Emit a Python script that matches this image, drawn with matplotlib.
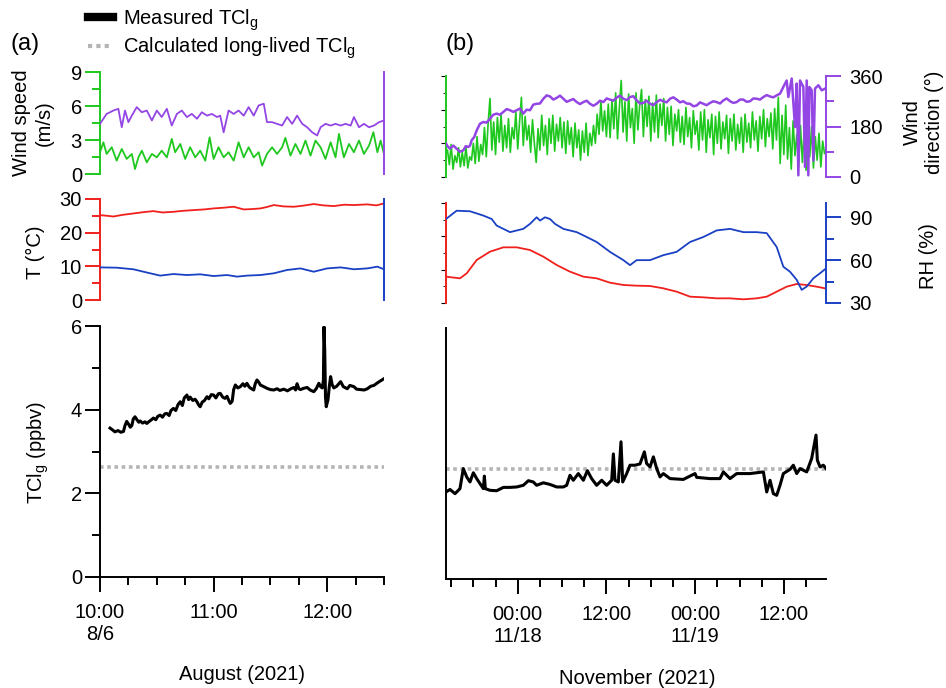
import matplotlib
matplotlib.use('Agg')
import matplotlib.pyplot as plt
from matplotlib.ticker import MultipleLocator
from matplotlib.lines import Line2D

plt.rcParams['font.family'] = ['Liberation Sans', 'DejaVu Sans']
plt.rcParams['font.size'] = 14.5
plt.rcParams['mathtext.default'] = 'regular'

W, H = 946, 688
GREEN = '#1ec81e'
PURPLE = '#9446e4'
RED = '#f0201c'
BLUE = '#1a40c4'
GRAY = '#b4b4b4'

# ---------- (a) August, minutes after 10:00 on 8/6 ----------
a_ws_min = [0, 1.8, 3.5, 6.2, 8.8, 11.5, 14.1, 16.8, 18.5, 20.3,
            22.1, 24.7, 27.4, 30.0, 32.6, 35.3, 37.9, 39.7, 42.4, 45.0,
            47.6, 50.3, 52.9, 55.6, 57.9, 60.0, 62.6, 65.3, 67.9, 70.6,
            73.2, 75.9, 78.5, 81.2, 83.8, 85.6, 88.2, 90.9, 93.5, 96.2,
            97.9, 100.6, 103.2, 105.9, 108.5, 111.2, 113.8, 116.5, 119.1, 121.8,
            124.4, 126.2, 128.8, 131.5, 134.1, 136.8, 139.4, 142.1, 144.4, 146.5,
            148.2, 150.0]
a_ws = [1.92, 2.80, 1.77, 2.36, 1.18, 2.21, 1.33, 1.77, 0.44, 1.47,
        2.06, 1.03, 1.77, 1.47, 2.06, 1.47, 3.10, 1.92, 2.65, 1.33,
        2.36, 1.47, 2.06, 1.18, 3.24, 1.33, 2.36, 1.47, 1.92, 1.18,
        2.80, 1.47, 2.36, 1.47, 1.92, 0.74, 1.77, 2.36, 1.77, 2.36,
        3.19, 1.62, 2.65, 1.77, 2.95, 1.62, 2.95, 2.36, 1.33, 2.80,
        1.47, 3.54, 1.47, 2.65, 1.92, 2.95, 1.77, 2.51, 3.69, 1.92,
        2.95, 1.77]

a_wd_min = [0, 3.5, 7.1, 9.7, 11.5, 13.2, 15.0, 16.8, 19.4, 22.1,
            24.7, 27.4, 30.0, 32.6, 35.3, 37.9, 40.6, 43.2, 45.9, 48.5,
            51.2, 53.8, 56.5, 59.1, 61.8, 63.5, 65.3, 67.9, 70.6, 73.2,
            75.9, 78.5, 81.2, 83.8, 86.5, 88.2, 90.9, 93.5, 96.2, 98.8,
            101.5, 104.1, 106.8, 109.4, 112.1, 114.7, 116.5, 119.1, 121.8, 124.4,
            127.1, 129.7, 132.4, 134.1, 136.8, 139.4, 142.1, 144.7, 147.4, 150.0]
a_wd = [177, 212, 224, 230, 165, 224, 183, 206, 236, 218,
        224, 189, 224, 201, 230, 171, 212, 224, 201, 212,
        195, 218, 206, 212, 201, 206, 147, 224, 212, 224,
        206, 236, 206, 242, 248, 183, 183, 177, 171, 201,
        177, 206, 177, 165, 147, 136, 165, 177, 171, 177,
        171, 177, 171, 201, 165, 177, 165, 171, 183, 189]

a_t_min = [0, 4, 7.1, 12, 17.6, 23, 28.2, 33, 38.8, 44,
           49.4, 55, 60, 65, 70.6, 75.9, 80, 84.7, 88, 91.8,
           97, 102.4, 107, 112.9, 118, 123.5, 129, 134.1, 141.2, 146, 150]
a_t = [25.2, 25.0, 24.8, 25.3, 25.7, 26.1, 26.4, 26.0, 26.2, 26.5,
       26.7, 26.9, 27.2, 27.4, 27.7, 26.9, 27.0, 27.2, 27.6, 28.2,
       27.8, 27.7, 28.0, 28.5, 28.1, 27.9, 28.3, 28.2, 28.4, 28.1, 28.7]

a_rh_min = [0, 8.8, 17.6, 26.5, 31.8, 38.8, 45.9, 52.9, 60, 67.1,
            72.4, 77.6, 84.7, 91.8, 98.8, 105.9, 112.9, 120, 127.1, 134.1,
            141.2, 146.5, 150]
a_rh = [52.6, 52.4, 51.3, 48.5, 46.9, 48.0, 47.3, 47.8, 46.6, 47.3,
        46.2, 46.9, 47.3, 48.5, 50.8, 51.9, 49.6, 51.9, 52.6, 51.3,
        51.9, 53.1, 51.3]

a_tcl_min = [5.3, 6.5, 7.9, 9.5, 11.0, 12.4, 13.2, 14.1, 15.0, 16.0,
             16.8, 17.6, 18.5, 19.5, 20.5, 21.2, 22.5, 23.8, 24.7, 26.0,
             27.2, 28.2, 29.5, 30.5, 31.8, 33.0, 34.2, 35.3, 36.5, 37.5,
             38.8, 40.0, 41.2, 42.4, 43.5, 44.5, 45.9, 46.8, 47.6, 49.0,
             50.2, 51.2, 52.0, 52.9, 54.0, 55.2, 56.5, 57.5, 58.8, 60.0,
             61.2, 62.5, 63.5, 64.8, 66.0, 67.1, 68.0, 68.8, 69.8, 70.6,
             71.5, 72.8, 74.1, 75.5, 76.5, 77.6, 78.8, 80.0, 81.2, 82.0,
             82.9, 83.8, 84.7, 86.5, 88.2, 90.0, 91.8, 93.5, 95.0, 97.1,
             99.0, 100.8, 102.4, 103.3, 104.1, 105.0, 105.9, 107.5, 109.4, 111.0,
             112.9, 114.2, 115.6, 116.5, 117.4, 118.0, 118.3, 118.7, 119.1, 119.5,
             119.9, 120.4, 121.1, 121.8, 122.6, 123.5, 125.0, 127.1, 128.5, 130.6,
             132.0, 134.1, 135.5, 137.6, 139.5, 141.2, 143.0, 144.7, 146.5, 148.2,
             150.0]
a_tcl = [3.56, 3.52, 3.47, 3.50, 3.46, 3.48, 3.62, 3.72, 3.66, 3.58,
         3.62, 3.78, 3.83, 3.76, 3.70, 3.73, 3.68, 3.71, 3.67, 3.72,
         3.76, 3.80, 3.76, 3.84, 3.87, 3.82, 3.90, 3.91, 3.86, 3.98,
         4.03, 3.98, 4.12, 4.19, 4.10, 4.28, 4.35, 4.24, 4.30, 4.22,
         4.25, 4.19, 4.12, 4.07, 4.18, 4.22, 4.31, 4.26, 4.36, 4.35,
         4.28, 4.38, 4.39, 4.30, 4.27, 4.32, 4.22, 4.15, 4.20, 4.48,
         4.59, 4.52, 4.55, 4.62, 4.56, 4.63, 4.54, 4.50, 4.47, 4.62,
         4.71, 4.66, 4.59, 4.55, 4.51, 4.48, 4.47, 4.50, 4.46, 4.49,
         4.45, 4.50, 4.53, 4.47, 4.62, 4.50, 4.48, 4.51, 4.53, 4.47,
         4.43, 4.50, 4.63, 4.55, 4.52, 4.70, 5.98, 5.40, 4.30, 4.07,
         4.15, 4.23, 4.55, 4.79, 4.60, 4.52, 4.56, 4.67, 4.55, 4.50,
         4.58, 4.55, 4.49, 4.48, 4.47, 4.50, 4.56, 4.58, 4.64, 4.69,
         4.74]
a_longlived = 2.64

a_xlim = (0, 150)
a_tick_min = [0, 60, 120]
a_tick_labels = ['10:00\n8/6', '11:00', '12:00']

# ---------- (b) November, hours after 00:00 on 11/17 ----------
b_ws_h = [14.5, 14.75, 15.0, 15.25, 15.5, 15.75, 16.0, 16.25,
          16.5, 16.75, 17.0, 17.25, 17.5, 17.75, 18.0, 18.25,
          18.5, 18.75, 19.0, 19.25, 19.5, 19.75, 20.0, 20.25,
          20.5, 20.75, 21.0, 21.25, 21.5, 21.75, 22.0, 22.25,
          22.5, 22.75, 23.0, 23.25, 23.5, 23.75, 24.0, 24.25,
          24.5, 24.75, 25.0, 25.25, 25.5, 25.75, 26.0, 26.25,
          26.5, 26.75, 27.0, 27.25, 27.5, 27.75, 28.0, 28.25,
          28.5, 28.75, 29.0, 29.25, 29.5, 29.75, 30.0, 30.25,
          30.5, 30.75, 31.0, 31.25, 31.5, 31.75, 32.0, 32.25,
          32.5, 32.75, 33.0, 33.25, 33.5, 33.75, 34.0, 34.25,
          34.5, 34.75, 35.0, 35.25, 35.5, 35.75, 36.0, 36.25,
          36.5, 36.75, 37.0, 37.25, 37.5, 37.75, 38.0, 38.25,
          38.5, 38.75, 39.0, 39.25, 39.5, 39.75, 40.0, 40.25,
          40.5, 40.75, 41.0, 41.25, 41.5, 41.75, 42.0, 42.25,
          42.5, 42.75, 43.0, 43.25, 43.5, 43.75, 44.0, 44.25,
          44.5, 44.75, 45.0, 45.25, 45.5, 45.75, 46.0, 46.25,
          46.5, 46.75, 47.0, 47.25, 47.5, 47.75, 48.0, 48.25,
          48.5, 48.75, 49.0, 49.25, 49.5, 49.75, 50.0, 50.25,
          50.5, 50.75, 51.0, 51.25, 51.5, 51.75, 52.0, 52.25,
          52.5, 52.75, 53.0, 53.25, 53.5, 53.75, 54.0, 54.25,
          54.5, 54.75, 55.0, 55.25, 55.5, 55.75, 56.0, 56.25,
          56.5, 56.75, 57.0, 57.25, 57.5, 57.75, 58.0, 58.25,
          58.5, 58.75, 59.0, 59.25, 59.5, 59.75, 60.0, 60.25,
          60.5, 60.75, 61.0, 61.25, 61.5, 61.75, 62.0, 62.25,
          62.5, 62.75, 63.0, 63.25, 63.5, 63.75, 64.0, 64.25,
          64.5, 64.75, 65.0, 65.25, 65.5]
b_ws = [2.4, 1.1, 2.9, 0.7, 1.9, 1.3, 2.6, 0.9,
        2.2, 1.0, 2.7, 0.8, 1.8, 1.5, 3.0, 1.2,
        3.6, 1.4, 2.9, 2.0, 4.4, 1.8, 4.8, 7.0,
        2.4, 4.9, 2.0, 5.3, 3.1, 5.6, 2.3, 4.6,
        2.6, 5.2, 2.2, 4.4, 3.4, 5.8, 2.5, 4.9,
        7.1, 2.8, 5.4, 3.3, 4.6, 2.2, 5.1, 3.0,
        1.3, 4.3, 2.4, 5.5, 2.8, 4.6, 2.0, 5.2,
        3.0, 5.5, 2.3, 4.7, 3.2, 5.3, 2.6, 4.9,
        2.1, 5.0, 2.9, 4.4, 1.8, 4.8, 2.6, 4.2,
        1.5, 4.1, 2.2, 4.8, 1.9, 3.9, 2.8, 4.6,
        3.0, 5.6, 3.8, 6.8, 4.1, 5.9, 3.6, 6.5,
        3.5, 6.9, 4.3, 7.5, 3.4, 6.2, 8.6, 4.0,
        6.7, 3.2, 7.4, 4.4, 6.1, 3.0, 7.5, 4.2,
        6.4, 7.8, 3.6, 6.9, 4.5, 7.2, 3.2, 6.6,
        4.0, 7.3, 3.5, 6.5, 4.6, 7.0, 3.2, 6.2,
        3.8, 6.3, 2.8, 5.6, 4.1, 6.0, 3.1, 5.4,
        2.9, 6.2, 3.6, 5.3, 2.6, 5.9, 3.8, 5.0,
        2.4, 5.8, 3.3, 6.0, 2.2, 5.1, 3.5, 5.6,
        2.0, 5.4, 3.0, 5.8, 2.5, 4.9, 3.4, 5.5,
        2.1, 5.2, 3.2, 5.6, 2.4, 4.7, 3.0, 5.3,
        2.2, 5.6, 3.1, 4.8, 2.6, 5.8, 3.3, 5.0,
        2.3, 5.4, 3.4, 6.0, 2.7, 5.2, 3.6, 5.7,
        2.5, 6.1, 3.3, 7.1, 1.2, 5.5, 2.0, 6.4,
        1.6, 4.4, 0.7, 5.0, 1.9, 3.8, 0.9, 4.6,
        1.3, 4.1, 0.6, 3.7, 1.8, 4.5, 0.8, 3.6,
        1.5, 3.9, 0.9, 3.2, 2.1]

b_wd_h = [14.30, 14.57, 14.84, 15.29, 15.74, 16.19, 16.64, 16.98, 17.32, 17.55,
          17.77, 18.11, 18.45, 18.90, 19.35, 19.80, 20.25, 20.70, 21.15, 21.60,
          22.06, 22.51, 22.96, 23.41, 23.86, 24.31, 24.76, 25.21, 25.66, 26.11,
          26.56, 27.01, 27.47, 27.92, 28.37, 28.82, 29.27, 29.72, 30.17, 30.62,
          31.07, 31.52, 31.98, 32.43, 32.88, 33.33, 33.78, 34.23, 34.68, 35.13,
          35.58, 36.03, 36.48, 36.93, 37.39, 37.84, 38.29, 38.74, 39.19, 39.64,
          40.09, 40.54, 40.99, 41.44, 41.90, 42.35, 42.80, 43.25, 43.70, 44.15,
          44.60, 45.05, 45.50, 45.95, 46.40, 46.85, 47.31, 47.76, 48.21, 48.66,
          49.11, 49.56, 50.01, 50.46, 50.91, 51.36, 51.82, 52.27, 52.72, 53.17,
          53.62, 54.07, 54.52, 54.97, 55.42, 55.87, 56.32, 56.77, 57.23, 57.68,
          58.13, 58.58, 59.03, 59.48, 59.93, 60.38, 60.61, 61.06, 61.51, 61.74,
          61.96, 62.19, 62.64, 62.86, 63.09, 63.31, 63.45, 63.76, 63.99, 64.21,
          64.67, 65.12, 65.57]
b_wd = [119, 108, 101, 112, 101, 90, 95, 110, 107, 112,
        131, 142, 166, 190, 196, 194, 208, 222, 226, 222,
        232, 242, 238, 232, 238, 244, 226, 240, 238, 258,
        261, 262, 279, 291, 287, 276, 282, 290, 279, 268,
        273, 278, 267, 260, 267, 272, 261, 254, 261, 272,
        267, 280, 276, 272, 283, 290, 279, 274, 285, 288,
        273, 262, 264, 272, 261, 256, 267, 275, 270, 266,
        279, 284, 276, 266, 270, 262, 261, 252, 255, 266,
        261, 256, 264, 270, 267, 262, 273, 280, 270, 264,
        267, 276, 276, 268, 270, 280, 279, 276, 285, 292,
        287, 284, 291, 297, 321, 344, 285, 351, 178, 333,
        6, 344, 321, 36, 344, 6, 321, 309, 59, 315,
        327, 309, 315]

b_t_h = [14.30, 16.19, 17.10, 18.45, 20.25, 22.06, 23.86, 25.66, 27.47, 29.27,
         31.07, 32.88, 34.68, 36.48, 38.29, 40.09, 41.90, 43.70, 45.50, 47.31,
         49.11, 50.91, 52.72, 54.52, 56.32, 57.68, 59.03, 60.38, 61.74, 63.09,
         64.44, 65.57]
b_t = [7.9, 7.4, 8.9, 12.9, 15.4, 16.7, 16.7, 15.9, 13.9, 11.4,
       9.4, 7.9, 7.4, 6.1, 5.4, 5.2, 5.1, 4.4, 3.4, 1.9,
       1.7, 1.4, 1.4, 1.1, 1.4, 1.9, 3.4, 4.9, 5.7, 5.4,
       4.9, 4.4]

b_rh_h = [14.30, 15.74, 17.55, 19.35, 20.48, 21.15, 22.96, 24.76, 25.66, 26.56,
          27.02, 27.69, 28.37, 29.04, 30.17, 31.98, 33.33, 34.68, 36.48, 38.29,
          39.19, 40.09, 41.90, 43.70, 45.50, 47.31, 49.11, 50.91, 52.72, 54.52,
          56.32, 57.68, 59.03, 59.93, 60.83, 61.74, 62.41, 63.09, 63.99, 64.89,
          65.70]
b_rh = [88.8, 94.6, 94.2, 91.2, 88.8, 84.2, 79.6, 81.9, 85.4, 90.0,
        87.7, 90.0, 88.8, 85.4, 81.9, 79.6, 76.2, 72.7, 65.8, 60.0,
        56.5, 60.0, 60.0, 63.5, 65.8, 72.7, 76.2, 80.8, 81.9, 79.6,
        79.6, 78.9, 69.2, 55.4, 51.9, 46.2, 39.2, 41.5, 47.3, 50.8,
        54.2]

b_tcl_h = [14.30, 14.84, 15.52, 16.19, 16.64, 17.10, 17.55, 18.00, 18.45, 18.90,
           19.35, 19.49, 19.62, 20.25, 21.15, 22.06, 22.96, 23.86, 24.76, 25.44,
           26.11, 26.56, 27.47, 28.37, 29.27, 30.17, 30.62, 31.07, 31.52, 32.20,
           32.88, 33.42, 34.00, 34.68, 35.36, 36.03, 36.71, 36.94, 37.16, 37.61,
           37.97, 38.20, 38.74, 39.19, 39.87, 40.54, 41.13, 41.44, 41.90, 42.35,
           42.80, 43.25, 43.70, 44.60, 46.40, 47.98, 48.21, 50.01, 51.36, 51.82,
           52.72, 53.62, 55.42, 57.23, 57.68, 58.13, 58.58, 59.03, 59.48, 59.93,
           60.83, 61.28, 61.74, 62.19, 63.09, 63.76, 64.35, 64.53, 64.89, 65.34,
           65.70]
b_tcl = [2.08, 2.14, 2.04, 2.16, 2.64, 2.44, 2.32, 2.54, 2.40, 2.28,
         2.16, 2.46, 2.16, 2.12, 2.11, 2.19, 2.19, 2.20, 2.24, 2.35,
         2.32, 2.24, 2.30, 2.26, 2.20, 2.20, 2.24, 2.48, 2.36, 2.52,
         2.36, 2.59, 2.40, 2.24, 2.36, 2.24, 2.36, 2.99, 2.36, 2.32,
         3.28, 2.32, 2.52, 2.72, 2.72, 2.75, 3.04, 2.76, 2.68, 2.92,
         2.64, 2.44, 2.52, 2.40, 2.38, 2.52, 2.43, 2.40, 2.40, 2.56,
         2.40, 2.52, 2.52, 2.56, 2.08, 2.36, 2.04, 2.00, 2.24, 2.52,
         2.62, 2.72, 2.52, 2.64, 2.56, 2.88, 3.44, 2.84, 2.68, 2.72,
         2.64]
b_longlived = 2.62

b_xlim = (14.3, 65.7)
b_tick_h = [24, 36, 48, 60]
b_tick_labels = ['00:00\n11/18', '12:00', '00:00\n11/19', '12:00']


def px_axes(fig, x0, x1, y0, y1):
    return fig.add_axes([x0 / W, 1 - y1 / H, (x1 - x0) / W, (y1 - y0) / H])


def only_spine(ax, side, color):
    for s in ['left', 'right', 'top', 'bottom']:
        ax.spines[s].set_visible(s == side)
    ax.spines[side].set_color(color)
    ax.spines[side].set_linewidth(1.4)


def y_ticks(ax, color, major, minor, side='left', show=True):
    ax.yaxis.set_major_locator(MultipleLocator(major))
    ax.yaxis.set_minor_locator(MultipleLocator(minor))
    if not show:
        ax.tick_params(axis='y', which='both', left=False, right=False,
                       labelleft=False, labelright=False)
        return
    pad = 2 if side == 'left' else 6
    ax.tick_params(axis='y', which='major', direction='out', length=11,
                   width=1.4, colors=color, labelcolor='black', pad=pad)
    ax.tick_params(axis='y', which='minor', direction='out', length=6,
                   width=1.4, colors=color)


def no_x(ax):
    ax.tick_params(axis='x', which='both', bottom=False, top=False,
                   labelbottom=False)


fig = plt.figure(figsize=(W / 100, H / 100), dpi=100)

# ---- panel (a) ----
ax = px_axes(fig, 100, 384, 72, 174)
ax.plot(a_ws_min, a_ws, color=GREEN, lw=1.3)
ax.set_xlim(*a_xlim)
ax.set_ylim(0, 9)
only_spine(ax, 'left', GREEN)
y_ticks(ax, GREEN, 3, 1.5)
no_x(ax)
ax2 = ax.twinx()
ax2.plot(a_wd_min, a_wd, color=PURPLE, lw=1.3)
ax2.set_ylim(0, 360)
only_spine(ax2, 'right', PURPLE)
y_ticks(ax2, PURPLE, 180, 90, 'right', show=False)
no_x(ax2)

ax = px_axes(fig, 100, 384, 199, 300)
ax.plot(a_t_min, a_t, color=RED, lw=1.3)
ax.set_xlim(*a_xlim)
ax.set_ylim(0, 30)
only_spine(ax, 'left', RED)
y_ticks(ax, RED, 10, 5)
no_x(ax)
ax2 = ax.twinx()
ax2.plot(a_rh_min, a_rh, color=BLUE, lw=1.3)
ax2.set_ylim(30, 100)
only_spine(ax2, 'right', BLUE)
y_ticks(ax2, BLUE, 30, 15, 'right', show=False)
no_x(ax2)

ax = px_axes(fig, 100, 384, 326, 577)
ax.axhline(a_longlived, color=GRAY, lw=2.6, ls=(0, (1, 1)))
ax.plot(a_tcl_min, a_tcl, color='black', lw=2.2)
ax.set_xlim(*a_xlim)
ax.set_ylim(0, 6)
for s in ['top', 'right']:
    ax.spines[s].set_visible(False)
for s in ['left', 'bottom']:
    ax.spines[s].set_linewidth(1.4)
y_ticks(ax, 'black', 2, 1)
ax.set_xticks(a_tick_min, a_tick_labels)
ax.xaxis.set_minor_locator(MultipleLocator(15))
ax.tick_params(axis='x', which='major', direction='out', length=11, width=1.4, pad=8)
ax.tick_params(axis='x', which='minor', direction='out', length=6, width=1.4)

# ---- panel (b) ----
ax = px_axes(fig, 446, 826, 76, 177)
ax.plot(b_ws_h, b_ws, color=GREEN, lw=1.2)
ax.set_xlim(*b_xlim)
ax.set_ylim(0, 9)
only_spine(ax, 'left', GREEN)
y_ticks(ax, GREEN, 3, 1.5, show=False)
no_x(ax)
ax2 = ax.twinx()
ax2.plot(b_wd_h, b_wd, color=PURPLE, lw=1.8)
ax2.set_ylim(0, 360)
only_spine(ax2, 'right', PURPLE)
y_ticks(ax2, PURPLE, 180, 90, 'right')
no_x(ax2)

ax = px_axes(fig, 446, 826, 203, 303)
ax.plot(b_t_h, b_t, color=RED, lw=1.3)
ax.set_xlim(*b_xlim)
ax.set_ylim(0, 30)
only_spine(ax, 'left', RED)
y_ticks(ax, RED, 10, 5, show=False)
no_x(ax)
ax2 = ax.twinx()
ax2.plot(b_rh_h, b_rh, color=BLUE, lw=1.3)
ax2.set_ylim(30, 100)
only_spine(ax2, 'right', BLUE)
y_ticks(ax2, BLUE, 30, 15, 'right')
no_x(ax2)

ax = px_axes(fig, 446, 826, 328, 579)
ax.axhline(b_longlived, color=GRAY, lw=2.6, ls=(0, (1, 1)))
ax.plot(b_tcl_h, b_tcl, color='black', lw=2.2)
ax.set_xlim(*b_xlim)
ax.set_ylim(0, 6)
for s in ['top', 'right']:
    ax.spines[s].set_visible(False)
for s in ['left', 'bottom']:
    ax.spines[s].set_linewidth(1.4)
y_ticks(ax, 'black', 2, 1, show=False)
ax.set_xticks(b_tick_h, b_tick_labels)
ax.xaxis.set_minor_locator(MultipleLocator(3))
ax.tick_params(axis='x', which='major', direction='out', length=11, width=1.4, pad=8)
ax.tick_params(axis='x', which='minor', direction='out', length=6, width=1.4)

# ---- axis titles, panel letters, legend ----
fig.text(242 / W, 1 - 674 / H, 'August (2021)', ha='center', va='center')
fig.text(637 / W, 1 - 678 / H, 'November (2021)', ha='center', va='center')
fig.text(33 / W, 1 - 123 / H, 'Wind speed\n(m/s)', rotation=90, ha='center', va='center')
fig.text(35 / W, 1 - 252 / H, 'T (°C)', rotation=90, ha='center', va='center')
fig.text(38 / W, 1 - 452 / H, 'TCl$_g$ (ppbv)', rotation=90, ha='center', va='center')
fig.text(923 / W, 1 - 122 / H, 'Wind\ndirection (°)', rotation=90, ha='center', va='center')
fig.text(928 / W, 1 - 256 / H, 'RH (%)', rotation=90, ha='center', va='center')
fig.text(25 / W, 1 - 44 / H, '(a)', fontsize=17, ha='center', va='center')
fig.text(460 / W, 1 - 44 / H, '(b)', fontsize=17, ha='center', va='center')

handles = [Line2D([], [], color='black', lw=6),
           Line2D([], [], color=GRAY, lw=3, ls=(0, (1, 1)))]
fig.legend(handles, ['Measured TCl$_g$', 'Calculated long-lived TCl$_g$'],
           loc='upper left', bbox_to_anchor=(88 / W, 1 - 7 / H), frameon=False,
           handlelength=1.25, handletextpad=0.5, labelspacing=0.15,
           borderpad=0, borderaxespad=0, fontsize=14.5)

fig.savefig('out.png', dpi=100)
